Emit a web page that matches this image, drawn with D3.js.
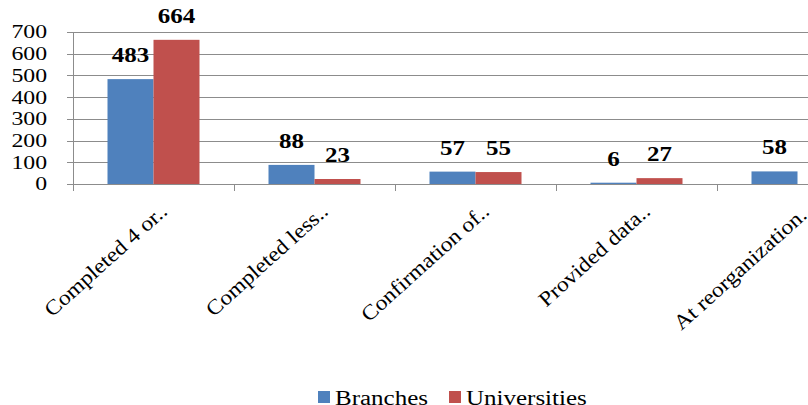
<!DOCTYPE html>
<head>
    <meta charset="utf-8">
    <script src="https://d3js.org/d3.v7.min.js"></script>
    <style>
        body { margin:0; background:#fff; }
        svg { display:block; }
        svg text { font-family: "Liberation Serif", "Times New Roman", serif; fill: #000; }
        .grid-line { stroke: #8c8c8c; stroke-width: 1; }
        .axis-line { stroke: #8c8c8c; stroke-width: 1; }
        .tick-label { font-size: 19px; }
        .value-label { font-size: 20px; font-weight: bold; }
        .cat-label { font-size: 21px; }
        .legend-label { font-size: 20px; }
    </style>
</head>

<body>
  <script>
    const categories = ['Completed 4 or..', 'Completed less..', 'Confirmation of..', 'Provided data..', 'At reorganization..'];
    const seriesNames = ['Branches', 'Universities'];
    const branches = [483, 88, 57, 6, 58];
    const universities = [664, 23, 55, 27, null];
    const yTicks = [0, 100, 200, 300, 400, 500, 600, 700];

    const colors = {Branches: '#4f81bd', Universities: '#c0504d'};
    const width = 808;
    const height = 405;
    const stretch = 1.25;

    const plot = {left: 73, right: 878, top: 32, bottom: 184};

    const rows = categories.map((c, i) => ({
        category: c,
        values: [
            {series: 'Branches', value: branches[i]},
            {series: 'Universities', value: universities[i]}
        ]
    }));

    const x0 = d3.scaleBand()
        .domain(categories)
        .range([plot.left, plot.right])
        .padding(0);

    const x1 = d3.scaleBand()
        .domain(seriesNames)
        .range([0, x0.bandwidth()])
        .paddingInner(0)
        .paddingOuter(0.75);

    const yScale = d3.scaleLinear()
        .domain([0, 700])
        .range([plot.bottom, plot.top]);

    const svg = d3.select('body').append('svg')
        .attr('width', width)
        .attr('height', height);

    // gridlines
    svg.append('g')
        .selectAll('line')
        .data(yTicks)
        .enter().append('line')
        .attr('class', 'grid-line')
        .attr('x1', plot.left - 6)
        .attr('x2', width)
        .attr('y1', d => Math.round(yScale(d)) + 0.5)
        .attr('y2', d => Math.round(yScale(d)) + 0.5);

    // y axis line
    svg.append('line')
        .attr('class', 'axis-line')
        .attr('x1', plot.left + 0.5)
        .attr('x2', plot.left + 0.5)
        .attr('y1', plot.top)
        .attr('y2', plot.bottom + 1);

    // y tick labels
    svg.append('g')
        .selectAll('text')
        .data(yTicks)
        .enter().append('text')
        .attr('class', 'tick-label')
        .attr('text-anchor', 'end')
        .attr('dy', '0.34em')
        .attr('transform', d => `translate(47,${yScale(d)}) scale(${stretch},1)`)
        .text(d => d);

    // category tick marks
    const boundaries = categories.map(c => x0(c)).concat([plot.right]);
    svg.append('g')
        .selectAll('line')
        .data(boundaries)
        .enter().append('line')
        .attr('class', 'axis-line')
        .attr('x1', d => Math.round(d) + 0.5)
        .attr('x2', d => Math.round(d) + 0.5)
        .attr('y1', plot.bottom)
        .attr('y2', plot.bottom + 7);

    // bars
    const groups = svg.append('g')
        .selectAll('g')
        .data(rows)
        .enter().append('g')
        .attr('transform', d => `translate(${x0(d.category)},0)`);

    groups.selectAll('rect')
        .data(d => d.values.filter(v => v.value !== null))
        .enter().append('rect')
        .attr('x', d => x1(d.series))
        .attr('width', x1.bandwidth())
        .attr('y', d => yScale(d.value))
        .attr('height', d => yScale(0) - yScale(d.value))
        .attr('fill', d => colors[d.series]);

    groups.selectAll('text')
        .data(d => d.values.filter(v => v.value !== null))
        .enter().append('text')
        .attr('class', 'value-label')
        .attr('text-anchor', 'middle')
        .attr('transform', d => `translate(${x1(d.series) + x1.bandwidth() / 2},${yScale(d.value) - 17}) scale(${stretch},1)`)
        .text(d => d.value);

    // category labels
    svg.append('g')
        .selectAll('text')
        .data(categories)
        .enter().append('text')
        .attr('class', 'cat-label')
        .attr('text-anchor', 'end')
        .attr('transform', d => `translate(${x0(d) + x0.bandwidth() / 2 + 15},213) rotate(-42) scale(1.12,1)`)
        .text(d => d);

    // legend
    const legend = svg.append('g')
        .attr('transform', 'translate(318,391)');

    const legendItems = legend.selectAll('g')
        .data(seriesNames)
        .enter().append('g')
        .attr('transform', (d, i) => `translate(${i * 131},0)`);

    legendItems.append('rect')
        .attr('width', 12)
        .attr('height', 12)
        .attr('fill', d => colors[d]);

    legendItems.append('text')
        .attr('class', 'legend-label')
        .attr('transform', `translate(17,14) scale(${stretch},1)`)
        .text(d => d);
  </script>
</body>
